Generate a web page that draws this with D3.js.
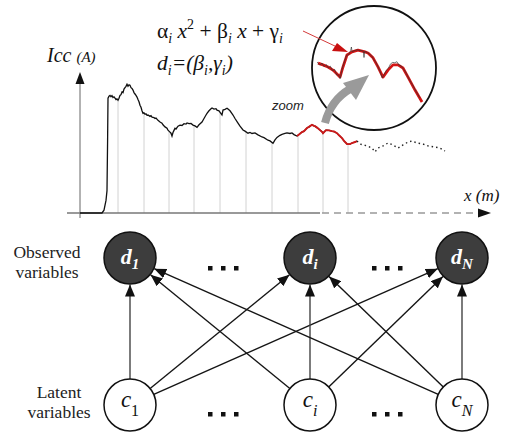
<!DOCTYPE html>
<html>
<head>
<meta charset="utf-8">
<script src="https://cdn.jsdelivr.net/npm/d3@7"></script>
<style>
  body { margin: 0; background: #fff; }
  #chart text, #chart tspan { font-family: 'Liberation Serif', serif !important; }
  #chart text.sans, #chart text.sans tspan { font-family: 'Liberation Sans', sans-serif !important; }
</style>
</head>
<body>
<svg id="chart" width="509" height="435"></svg>
<script>
// Short-circuit current Icc (A) measured along the line, x (m)
const iccTrace = [
  [0,0],[5.5,0],[6,0.2],[6.5,0.9],[6.75,1.6],[6.9,5.2],[7,8.2],[7.25,8.35],[7.5,8.4],[7.75,8.3],
  [8,8.38],[8.25,8.25],[8.5,8.3],[8.75,8.2],[9,8.1],[9.25,8.15],[9.5,8.05],[9.75,8.2],[10,8.4],
  [10.25,8.45],[10.5,8.65],[10.75,8.6],[11,8.85],[11.25,8.95],[11.5,9.05],[11.75,9.2],[12,9.05],
  [12.25,9.15],[12.5,9.12],[12.75,8.95],[13,8.9],[13.25,8.78],[13.5,8.6],[13.75,8.5],[14,8.4],
  [14.25,8.28],[14.5,8.1],[14.75,7.95],[15,7.7],[15.25,7.55],[15.5,7.3],[15.75,7.12],[16,7.15],
  [16.25,7.05],[16.5,7.08],[16.75,6.98],[17,7.0],[17.5,6.9],[17.75,6.95],[18,6.85],[18.5,6.82],
  [18.75,6.75],[19,6.78],[19.5,6.62],[20,6.5],[20.5,6.42],[20.75,6.3],[21.25,6.15],[21.75,6.05],
  [22,5.92],[22.5,5.78],[22.75,5.7],[23,5.5],[23.25,5.75],[23.5,5.9],[23.75,6.05],[24,6.0],
  [24.5,6.2],[25,6.28],[25.5,6.25],[26,6.38],[26.5,6.35],[26.75,6.43],[27.25,6.38],[27.75,6.4],
  [28.25,6.28],[28.75,6.22],[29.25,6.12],[29.75,6.3],[30.5,6.5],[31,6.75],[31.5,7.0],[31.75,7.12],
  [32.25,7.3],[32.75,7.45],[33,7.5],[33.5,7.42],[34,7.45],[34.25,7.35],[34.75,7.3],[35.25,7.1],
  [35.5,7.0],[35.75,7.35],[36.25,7.4],[36.75,7.48],[37,7.42],[37.5,7.3],[38,7.1],[38.25,7.0],
  [38.75,6.75],[39.5,6.42],[40,6.2],[40.75,5.93],[41.25,5.85],[42,5.7],[42.5,5.75],[43,5.68],
  [43.75,5.72],[44.5,5.58],[45.5,5.43],[46,5.38],[47,5.2],[47.5,5.15],[48.25,4.98],[48.5,5.1],
  [48.75,5.22],[49.25,5.4],[50,5.55],[50.5,5.62],[51.25,5.68],[51.75,5.72],[52.5,5.68],[53,5.72],
  [53.5,5.6],[54.25,5.5],[54.75,5.6],[55.5,5.78],[56,5.85],[56.75,6.07],[57.25,6.15],[58,6.3],
  [58.5,6.22],[58.75,6.2],[59.25,6.1],[60,5.92],[60.5,5.8],[60.75,5.7],[61.25,5.85],[61.5,5.92],
  [62.25,5.9],[63,5.85],[63.5,5.82],[64.25,5.7],[64.75,5.55],[65.5,5.35],[66,5.15],[66.75,4.93],
  [67.5,4.92],[68,5.0],[68.75,5.07],[69.25,5.14]
];

// Not yet processed stretch of the signal (dotted)
const iccTail = [
  [69.25,5.14],[70,4.93],[71.75,4.79],[73,4.64],[73.75,4.36],[74.5,4.64],[75.75,4.79],[77,5.0],
  [78.25,4.86],[79.5,4.64],[80.75,4.86],[82,5.07],[83,5.14],[84.25,5.0],[85.75,4.93],[87,4.79],
  [88.75,4.71],[90,4.64],[91.25,4.43]
];

// Window boundaries of the piecewise segmentation
const segmentBounds = [9.5, 16, 22.25, 28.5, 35, 41.5, 48, 54.5, 60.75, 67];

// Stretch fitted with the quadratic alpha_i x^2 + beta_i x + gamma_i
const fitRange = [54.25, 69.25];

// Zoomed view: fitted quadratic pieces and raw signal
const insetFit = [
  [54.43,5.94],[55.14,5.89],[55.86,5.83],[56.57,5.74],[57.29,5.6],[57.57,5.54],[58.0,5.83],
  [58.57,6.17],[59.29,6.26],[60.14,6.31],[61.14,6.26],[61.57,6.23],[62.29,6.09],[63.0,5.83],
  [63.71,5.54],[64.43,5.74],[65.14,5.89],[65.86,5.89],[66.57,5.8],[67.29,5.54],[68.29,5.17],[69.29,4.83]
];
const insetRaw = [
  [54.3,5.97],[54.7,5.88],[55.0,5.94],[55.3,5.84],[55.6,5.9],[55.9,5.8],[56.2,5.85],[56.5,5.72],
  [56.8,5.76],[57.1,5.6],[57.4,5.6],[57.6,5.5],[57.9,5.8],[58.2,5.98],[58.5,6.16],[58.8,6.18],
  [59.1,6.3],[59.2,6.4],[59.3,6.26],[59.7,6.3],[60.0,6.32],[60.3,6.3],[60.6,6.3],[60.9,6.28],
  [61.0,6.1],[61.1,6.28],[61.8,6.2],[62.1,6.14],[62.4,6.04],[62.7,5.96],[63.0,5.84],[63.3,5.7],
  [63.6,5.52],[63.9,5.62],[64.2,5.74],[64.5,5.8],[64.8,5.92],[65.1,5.96],[65.4,5.95],[65.7,5.98],
  [66.0,5.88],[66.3,5.86],[66.6,5.78],[66.9,5.7],[67.2,5.58],[67.5,5.46],[67.8,5.36],[68.1,5.26],
  [68.4,5.14],[68.7,5.04],[69.0,4.94]
];

// Graphical model: observed descriptors d and latent classes c
const observedNodes = ["1", "i", "N"];
const latentNodes = ["1", "i", "N"];

// ---------------------------------------------------------------------
const SERIF = "'Liberation Serif', serif";
const SANS = "'Liberation Sans', sans-serif";
const svg = d3.select("#chart");
const layout = {
  nodeCols: [130, 310, 462], obsY: 258, latY: 405, r: 26,
  inset: { cx: 374, cy: 68, r: 62 }
};
// every text element gets its face set explicitly
const addText = (sel, fam) => sel.append("text")
  .attr("font-family", fam || SERIF).style("font-family", fam || SERIF)
  .classed("sans", fam === SANS);

const x = d3.scaleLinear().domain([0, 100]).range([80, 480]);
const y = d3.scaleLinear().domain([0, 10]).range([213, 73]);

// segment verticals, up to the trace
const bis = d3.bisector(d => d[0]).left;
function traceAt(v) {
  const i = bis(iccTrace, v);
  const a = iccTrace[Math.max(0, i - 1)], b = iccTrace[Math.min(iccTrace.length - 1, i)];
  if (b[0] === a[0]) return a[1];
  return a[1] + (b[1] - a[1]) * (v - a[0]) / (b[0] - a[0]);
}
svg.append("g").selectAll("line").data(segmentBounds).join("line")
  .attr("x1", d => x(d)).attr("x2", d => x(d))
  .attr("y1", d => y(traceAt(d))).attr("y2", y(0))
  .attr("stroke", "#d2d2d2").attr("stroke-width", 1);

// axes
svg.append("line").attr("x1", x(0)).attr("x2", x(0)).attr("y1", y(0) + 5).attr("y2", 82)
  .attr("stroke", "#666").attr("stroke-width", 1);
svg.append("path").attr("d", `M${x(0)},72 L${x(0) - 4.5},84 L${x(0) + 4.5},84 Z`).attr("fill", "#111");
svg.append("line").attr("x1", 67).attr("x2", 320).attr("y1", y(0)).attr("y2", y(0))
  .attr("stroke", "#777").attr("stroke-width", 1.4);
svg.append("line").attr("x1", 322).attr("x2", 480).attr("y1", y(0)).attr("y2", y(0))
  .attr("stroke", "#999").attr("stroke-width", 1.4).attr("stroke-dasharray", "7,5");
svg.append("path").attr("d", `M491,${y(0)} L478,${y(0) - 4.5} L478,${y(0) + 4.5} Z`).attr("fill", "#111");

// trace
const line = d3.line().x(d => x(d[0])).y(d => y(d[1]));
svg.append("path").datum(iccTrace).attr("d", line)
  .attr("fill", "none").attr("stroke", "#111").attr("stroke-width", 1.3);
svg.append("path").datum(iccTrace.filter(d => d[0] >= fitRange[0] && d[0] <= fitRange[1])).attr("d", line)
  .attr("fill", "none").attr("stroke", "#cc1a1a").attr("stroke-width", 1.9);
svg.append("path").datum(iccTail).attr("d", line)
  .attr("fill", "none").attr("stroke", "#222").attr("stroke-width", 1.4).attr("stroke-dasharray", "1.5,3");

// axis titles
const yt = addText(svg).attr("x", 47).attr("y", 62).attr("font-style", "italic").attr("fill", "#111");
yt.append("tspan").attr("font-size", 20).text("Icc ");
yt.append("tspan").attr("font-size", 15).text("(A)");
addText(svg).attr("x", 464).attr("y", 201).attr("font-style", "italic").attr("font-size", 17)
  .attr("fill", "#111").text("x (m)");

// rich text helper: segments [text, kind]
function rich(xp, yp, size, segs, italicAll) {
  const t = addText(svg).attr("x", xp).attr("y", yp).attr("font-size", size).attr("fill", "#111");
  if (italicAll) t.attr("font-style", "italic");
  let shift = 0;
  segs.forEach(([s, kind]) => {
    const sp = t.append("tspan").text(s);
    let target = 0;
    if (kind === "sub") { target = size * 0.24; sp.attr("font-size", size * 0.65).attr("font-style", "italic"); }
    else if (kind === "sup") { target = -size * 0.4; sp.attr("font-size", size * 0.65); }
    else if (kind === "i") sp.attr("font-style", "italic");
    if (target !== shift) { sp.attr("dy", target - shift); shift = target; }
  });
  return t;
}
rich(157, 38, 21.5, [["α", "n"], ["i", "sub"], [" x", "i"], ["2", "sup"], [" + β", "n"], ["i", "sub"],
  [" x", "i"], [" + γ", "n"], ["i", "sub"]]);
rich(157, 70, 21.5, [["d", "i"], ["i", "sub"], ["=(β", "n"], ["i", "sub"], [",γ", "n"], ["i", "sub"], [")", "n"]], true);

// zoom inset
const ins = layout.inset;
const ix = d3.scaleLinear().domain([54, 70]).range([315, 427]);
const iy = d3.scaleLinear().domain([4.6, 6.6]).range([110, 40]);
svg.append("clipPath").attr("id", "insetClip").append("circle")
  .attr("cx", ins.cx).attr("cy", ins.cy).attr("r", ins.r - 1);
const ig = svg.append("g").attr("clip-path", "url(#insetClip)");
const iline = d3.line().x(d => ix(d[0])).y(d => iy(d[1]));
ig.append("path").datum(insetFit).attr("d", iline)
  .attr("fill", "none").attr("stroke", "#d41414").attr("stroke-width", 2.8).attr("stroke-linejoin", "round");
ig.append("path").datum(insetRaw).attr("d", iline)
  .attr("fill", "none").attr("stroke", "#333").attr("stroke-width", 0.9).attr("stroke-opacity", 0.75);
svg.append("circle").attr("cx", ins.cx).attr("cy", ins.cy).attr("r", ins.r)
  .attr("fill", "none").attr("stroke", "#111").attr("stroke-width", 1.8);

// pointer from the formula to the fitted piece
svg.append("line").attr("x1", 303).attr("y1", 31).attr("x2", 337).attr("y2", 47)
  .attr("stroke", "#d43a3a").attr("stroke-width", 1);
svg.append("path").attr("d", "M348,52 L332,51 L337,43 Z").attr("fill", "#c81010");

// grey "zoom" arrow
svg.append("path").attr("d", "M325,123 Q331,100 350,89")
  .attr("fill", "none").attr("stroke", "#9a9a9a").attr("stroke-width", 8);
svg.append("path").attr("d", "M369,75 L343,83 L356,100 Z").attr("fill", "#9a9a9a");
addText(svg, SANS).attr("x", 272).attr("y", 110)
  .attr("font-style", "italic").attr("font-size", 13).attr("fill", "#222").text("zoom");

// ---------------- graphical model ----------------
const defs = svg.append("defs");
defs.append("marker").attr("id", "head").attr("viewBox", "0 0 12 10")
  .attr("refX", 12).attr("refY", 5).attr("markerWidth", 12).attr("markerHeight", 10)
  .attr("markerUnits", "userSpaceOnUse").attr("orient", "auto")
  .append("path").attr("d", "M0,0 L12,5 L0,10 Z").attr("fill", "#111");

const col = d3.scaleOrdinal().domain(observedNodes).range(layout.nodeCols);
const edges = [];
latentNodes.forEach(c => observedNodes.forEach(d => edges.push({ c, d })));
const R = layout.r;
svg.append("g").selectAll("line").data(edges).join("line")
  .each(function (e) {
    const x0 = col(e.c), y0 = layout.latY, x1 = col(e.d), y1 = layout.obsY;
    const L = Math.hypot(x1 - x0, y1 - y0), ux = (x1 - x0) / L, uy = (y1 - y0) / L;
    d3.select(this).attr("x1", x0 + ux * R).attr("y1", y0 + uy * R)
      .attr("x2", x1 - ux * (R + 0.5)).attr("y2", y1 - uy * (R + 0.5));
  })
  .attr("stroke", e => e.c === e.d ? "#444" : "#151515").attr("stroke-width", 1.4)
  .attr("marker-end", "url(#head)");

// observed nodes
const og = svg.append("g").selectAll("g").data(observedNodes).join("g")
  .attr("transform", d => `translate(${col(d)},${layout.obsY})`);
og.append("circle").attr("r", R).attr("fill", "#3d3d3d").attr("stroke", "#111").attr("stroke-width", 1.5);
og.each(function (d) {
  const t = addText(d3.select(this)).attr("text-anchor", "middle").attr("y", 6).attr("fill", "#fff")
    .attr("font-weight", "bold").attr("font-style", "italic").attr("font-size", 22);
  t.append("tspan").text("d");
  t.append("tspan").attr("dy", 5).attr("font-size", 15).text(d);
});

// latent nodes
const lg = svg.append("g").selectAll("g").data(latentNodes).join("g")
  .attr("transform", d => `translate(${col(d)},${layout.latY})`);
lg.append("circle").attr("r", R).attr("fill", "#fff").attr("stroke", "#111").attr("stroke-width", 1.5);
lg.each(function (d) {
  const t = addText(d3.select(this)).attr("text-anchor", "middle").attr("y", 2).attr("fill", "#111").attr("font-size", 23);
  t.append("tspan").attr("font-style", "italic").text("c");
  t.append("tspan").attr("dy", 9).attr("font-size", 16).attr("font-style", d === "1" ? "normal" : "italic").text(d);
});

// ellipses between nodes
const gaps = [[208, 238], [372, 402]];
[layout.obsY + 10, layout.latY + 9].forEach(yy => {
  gaps.forEach(([a, b]) => {
    d3.range(3).forEach(k => {
      svg.append("rect").attr("x", a + k * (b - a - 4) / 2).attr("y", yy - 2)
        .attr("width", 4.5).attr("height", 4.5).attr("fill", "#111");
    });
  });
});

// row labels
const lbl = (cx, y0, lines) => lines.forEach((s, k) =>
  addText(svg).attr("x", cx).attr("y", y0 + k * 19.5).attr("text-anchor", "middle")
    .attr("font-size", 17.5).attr("fill", "#222").text(s));
lbl(47, 258, ["Observed", "variables"]);
lbl(59, 398, ["Latent", "variables"]);
</script>
</body>
</html>
